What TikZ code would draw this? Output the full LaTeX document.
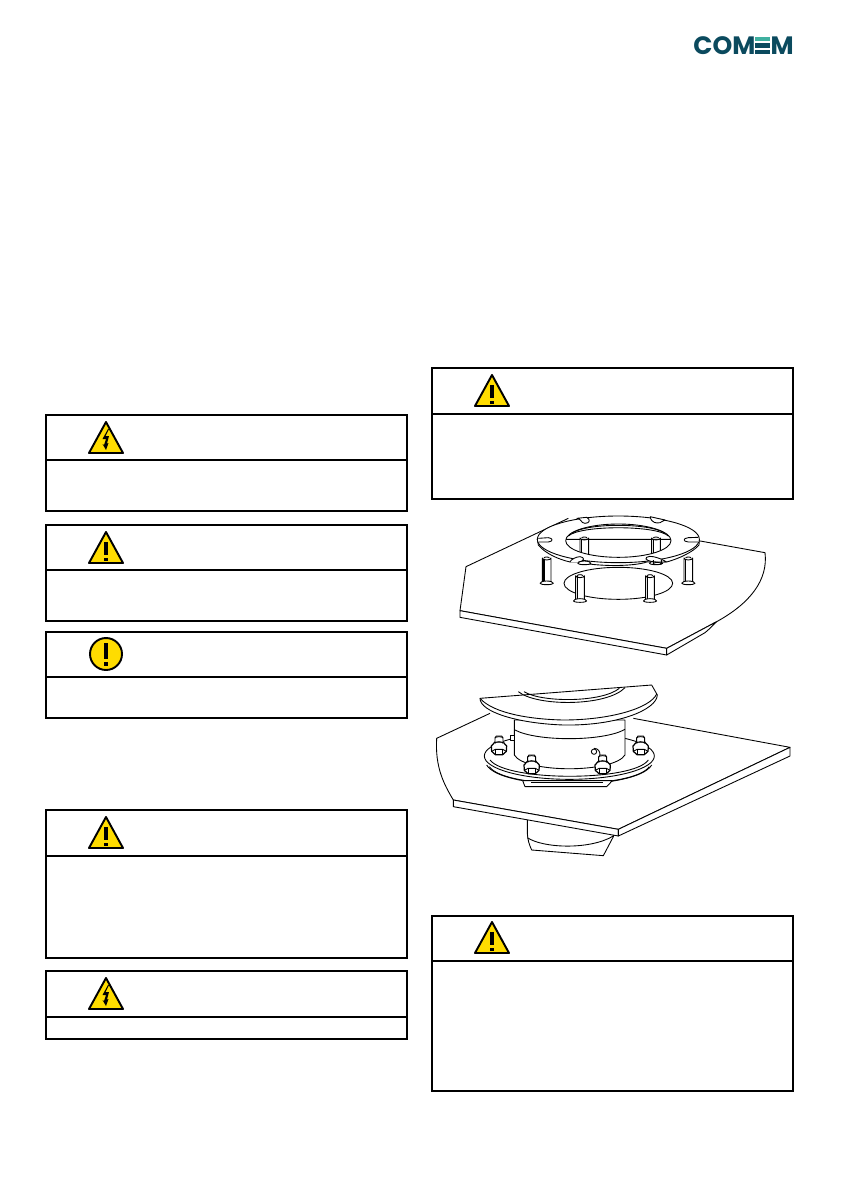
\documentclass[tikz,border=0pt]{standalone}
\usepackage{fontspec}
\setmainfont{Poppins}
\definecolor{comemdark}{HTML}{0B4A5E}
\definecolor{comemlight}{HTML}{3FB0A0}
\definecolor{signyellow}{HTML}{FFDC00}
\tikzset{
  boxline/.style = {line width = 1.2pt},
  signline/.style = {line width = 1.1pt, line join = round, fill = signyellow},
  partline/.style = {line width = 0.5pt, line join = round, fill = white},
  thinline/.style = {line width = 0.5pt, line join = round},
  logotext/.style = {inner sep = 0, font = \bfseries\fontsize{14.3}{14.3}\selectfont, text = comemdark},
  triangle sign/.pic = {
    \draw [signline] (0, -16) -- (17, 15) -- (-17, 15) -- cycle;
  },
  shock sign/.pic = {
    \pic {triangle sign};
    \fill (2, -9) -- (-3.5, 1) -- (0, 1) -- (-2, 7) -- (-3.5, 6) -- (0, 12) -- (2.5, 5) -- (1, 5.5) -- (3, -2) -- (-0.5, -2) -- (3, -9) -- cycle;
  },
  note sign/.pic = {
    \pic {triangle sign};
    \fill (-2, -6) rectangle (2, 7);
    \fill (-2, 9.5) rectangle (2, 12.5);
  },
  round sign/.pic = {
    \draw [signline] (0, 0) circle [radius = 16];
    \fill (-2.2, -11) rectangle (2.2, 5);
    \fill (-2.2, 8) rectangle (2.2, 12);
  },
  pin/.pic = {
    \draw [partline] (-13, 0) -- (-13, -76) arc (180:0:13 and 6) -- (13, 0) -- cycle;
    \draw [thinline, line width = 0.9pt] (-8, 0) -- (-8, -74);
    \draw [thinline] (-8, -76) arc (180:360:8 and 3);
    \draw [partline] (-20, 0) arc (180:360:20 and 7) arc (0:180:20 and 4);
  },
  nut/.pic = {
    \draw [partline, line width = 0.7pt] (-23, 0) -- (-22, 16) -- (-11, 26) -- (11, 26) -- (22, 16) -- (23, 0) -- (12, -12) -- (-12, -12) -- cycle;
    \draw [thinline] (-22, 16) -- (-11, 10) -- (11, 10) -- (22, 16);
    \draw [thinline] (-11, 10) -- (-11, 26);
    \draw [thinline] (11, 10) -- (11, 26);
    \draw [partline] (-12, -8) -- (-12, -24) -- (-8, -30) -- (8, -30) -- (12, -24) -- (12, -8) arc (0:-180:12 and 5);
    \draw [thinline] (-12, -24) arc (180:360:12 and 4);
  }
}
\begin{document}
\begin{tikzpicture}[x=0.02cm, y=-0.02cm]
    \useasboundingbox [fill=white] (0, 0) rectangle (840, 1192);

    % logo
    \node [logotext, anchor=west] (logoleft) at (693, 46) {COM};
    \node [logotext, anchor=east] (logoright) at (794, 46) {M};
    \fill [comemlight] (755, 37) rectangle (770, 41.5);
    \fill [comemdark] (755, 43.5) rectangle (770, 48);
    \fill [comemdark] (755, 50) rectangle (770, 54.5);

    % boxes: left, top, divider, bottom
    \foreach \l/\t/\m/\b in {46/415/460/511, 46/525/570/621, 46/632/677/718, 46/810/856/958, 46/971/1017/1039, 432/368/414/499, 432/916/961/1091} {
      \draw [boxline] (\l, \t) rectangle (\l + 361, \b);
      \draw [boxline] (\l, \m) -- (\l + 361, \m);
    }

    \pic at (106, 438) {shock sign};
    \pic at (106, 548) {note sign};
    \pic at (106, 654) {round sign};
    \pic at (106, 833) {note sign};
    \pic at (106, 994) {shock sign};
    \pic at (492, 391) {note sign};
    \pic at (492, 938) {note sign};

    % upper part
    \begin{scope}[shift={(430, 500)}, scale=1/3]
      \draw [partline] (805, 122) -- (1005, 158) .. controls (1015, 240) and (960, 310) .. (860, 365) -- (710, 445) -- (90, 332) -- (108, 200) -- (415, 55);
      \draw [partline] (90, 332) -- (710, 445) -- (710, 465) -- (90, 352) -- cycle;
      \draw [partline] (710, 445) -- (860, 365) .. controls (845, 380) and (835, 390) .. (825, 398) -- (710, 465) -- cycle;
      \draw [partline] (565, 250) ellipse [x radius = 163, y radius = 48];

      \pic [transform shape] at (350, 250) {pin};
      \pic [transform shape] at (775, 250) {pin};

      % ring with its hole
      \draw [partline] (322, 118) -- (325, 135) .. controls (345, 160) and (385, 178) .. (420, 186) -- (445, 186) .. controls (500, 200) and (610, 200) .. (650, 186) -- (710, 186) .. controls (750, 175) and (790, 155) .. (807, 135) -- (808, 118) -- cycle;
      \pic [transform shape] at (463, 190) {pin};
      \pic [transform shape] at (678, 190) {pin};
      \draw [partline, even odd rule] (565, 118) ellipse [x radius = 243, y radius = 70] (565, 122) ellipse [x radius = 158, y radius = 50];
      \draw [thinline] (415, 108) .. controls (450, 75) and (680, 75) .. (715, 108);
      \draw [thinline] (425, 100) .. controls (470, 68) and (660, 68) .. (705, 100);

      % slots
      \draw [partline] (440, 55) .. controls (455, 55) and (452, 70) .. (465, 70) .. controls (480, 70) and (482, 58) .. (470, 52) -- (440, 55);
      \draw [partline] (660, 50) .. controls (665, 70) and (680, 70) .. (690, 68) .. controls (700, 65) and (700, 60) .. (705, 60) -- (660, 50);
      \draw [partline] (325, 115) -- (355, 113) .. controls (370, 115) and (370, 124) .. (355, 126) -- (325, 126);
      \draw [partline] (805, 112) -- (775, 113) .. controls (758, 115) and (758, 124) .. (775, 126) -- (805, 126);
      \draw [partline] (420, 186) .. controls (422, 178) and (440, 170) .. (450, 170) .. controls (465, 172) and (465, 183) .. (445, 186);
      \draw [partline] (710, 186) -- (680, 186) .. controls (660, 186) and (640, 178) .. (650, 172) .. controls (660, 165) and (680, 172) .. (695, 178) -- (710, 186);
      \draw [thinline] (670, 180) -- (670, 192) arc (180:360:12 and 5) -- (694, 180);

      \pic [transform shape] at (450, 303) {pin};
      \pic [transform shape] at (660, 303) {pin};
    \end{scope}

    % mounted part
    \begin{scope}[shift={(430, 670)}, scale=1/3]
      \draw [thinline] (292, 440) -- (292, 490) .. controls (293, 510) and (298, 525) .. (305, 540) -- (520, 557) -- (550, 500) -- (550, 440);
      \draw [thinline] (292, 503) .. controls (340, 535) and (480, 540) .. (550, 498);

      \draw [partline] (610, 145) -- (1080, 232) -- (565, 478) -- (70, 390) .. controls (40, 340) and (15, 290) .. (20, 205) -- (180, 130);
      \draw [partline] (70, 390) -- (565, 478) -- (565, 498) -- (70, 410) -- cycle;
      \draw [partline] (565, 478) -- (1080, 232) -- (1080, 258) -- (565, 498) -- cycle;

      % flange
      \draw [thinline] (170, 285) .. controls (215, 362) and (620, 362) .. (665, 285);
      \draw [thinline] (178, 290) .. controls (225, 358) and (610, 358) .. (658, 290);
      \draw [partline] (278, 332) -- (285, 350) -- (530, 350) -- (547, 332) -- cycle;
      \draw [thinline] (303, 338) -- (520, 338);
      \draw [partline] (418, 258) ellipse [x radius = 255, y radius = 70];
      \draw [thinline] (180, 270) .. controls (230, 335) and (610, 335) .. (655, 270);

      % body
      \draw [partline] (253, 150) -- (253, 255) .. controls (285, 310) and (550, 310) .. (585, 255) -- (585, 150) -- cycle;
      \draw [thinline] (255, 180) .. controls (320, 215) and (520, 215) .. (585, 178);
      \draw [partline] (240, 196) rectangle (252, 212);
      \draw [partline] (492, 245) circle [radius = 8];
      \draw [thinline] (492, 235) .. controls (505, 235) and (510, 245) .. (510, 255);

      \pic [transform shape] at (207, 228) {nut};
      \pic [transform shape] at (632, 228) {nut};
      \pic [transform shape] at (305, 285) {nut};
      \pic [transform shape] at (518, 285) {nut};

      % cap
      \draw [partline] (150, 85) -- (665, 45) -- (682, 75) .. controls (680, 120) and (560, 168) .. (400, 165) .. controls (260, 160) and (150, 125) .. (150, 85) -- cycle;
      \draw [thinline] (150, 85) .. controls (190, 130) and (300, 148) .. (400, 150) .. controls (540, 150) and (660, 115) .. (680, 72);
      \draw [thinline] (265, 65) .. controls (320, 110) and (530, 110) .. (585, 53);
      \draw [thinline] (282, 65) .. controls (335, 98) and (515, 98) .. (568, 55);
    \end{scope}
\end{tikzpicture}
\end{document}
